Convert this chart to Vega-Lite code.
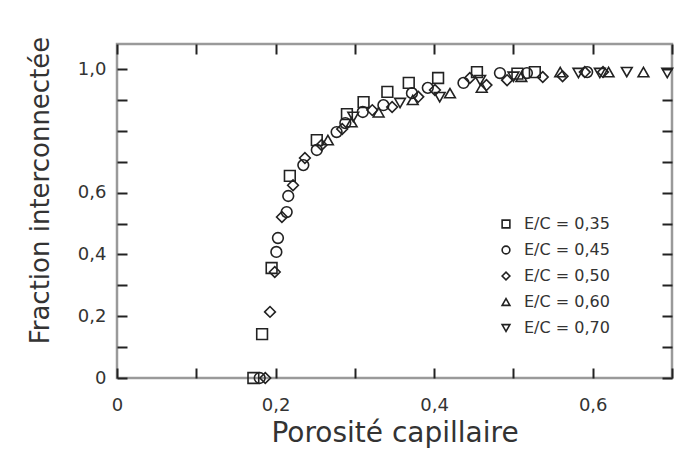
{
  "$schema": "https://vega.github.io/schema/vega-lite/v6.json",
  "width": 555,
  "height": 334,
  "autosize": "none",
  "padding": {"left": 117, "top": 44, "right": 28, "bottom": 86},
  "background": "white",
  "config": {
    "view": {"stroke": "#9a9a9a", "strokeWidth": 2.5},
    "font": "DejaVu Sans",
    "axis": {
      "grid": false,
      "domain": false,
      "tickColor": "#222",
      "tickWidth": 2,
      "tickSize": -10,
      "labelFont": "DejaVu Sans",
      "labelFontSize": 18,
      "labelColor": "#333",
      "titleFont": "DejaVu Sans",
      "titleFontWeight": "normal",
      "titleColor": "#333",
      "labelOverlap": false,
      "labelFlush": false
    }
  },
  "data": {
    "values": [
      {"s": "E/C = 0,35", "x": 0.172, "y": 0.0},
      {"s": "E/C = 0,35", "x": 0.183, "y": 0.142},
      {"s": "E/C = 0,35", "x": 0.195, "y": 0.356},
      {"s": "E/C = 0,35", "x": 0.218, "y": 0.654},
      {"s": "E/C = 0,35", "x": 0.252, "y": 0.770},
      {"s": "E/C = 0,35", "x": 0.290, "y": 0.854},
      {"s": "E/C = 0,35", "x": 0.311, "y": 0.893},
      {"s": "E/C = 0,35", "x": 0.341, "y": 0.926},
      {"s": "E/C = 0,35", "x": 0.368, "y": 0.955},
      {"s": "E/C = 0,35", "x": 0.405, "y": 0.971},
      {"s": "E/C = 0,35", "x": 0.454, "y": 0.990},
      {"s": "E/C = 0,35", "x": 0.505, "y": 0.985},
      {"s": "E/C = 0,35", "x": 0.527, "y": 0.990},
      {"s": "E/C = 0,45", "x": 0.180, "y": 0.0},
      {"s": "E/C = 0,45", "x": 0.201, "y": 0.408},
      {"s": "E/C = 0,45", "x": 0.203, "y": 0.453},
      {"s": "E/C = 0,45", "x": 0.214, "y": 0.537},
      {"s": "E/C = 0,45", "x": 0.216, "y": 0.589},
      {"s": "E/C = 0,45", "x": 0.235, "y": 0.689},
      {"s": "E/C = 0,45", "x": 0.252, "y": 0.738},
      {"s": "E/C = 0,45", "x": 0.277, "y": 0.796},
      {"s": "E/C = 0,45", "x": 0.288, "y": 0.825},
      {"s": "E/C = 0,45", "x": 0.310, "y": 0.861},
      {"s": "E/C = 0,45", "x": 0.336, "y": 0.883},
      {"s": "E/C = 0,45", "x": 0.372, "y": 0.922},
      {"s": "E/C = 0,45", "x": 0.392, "y": 0.939},
      {"s": "E/C = 0,45", "x": 0.437, "y": 0.955},
      {"s": "E/C = 0,45", "x": 0.483, "y": 0.987},
      {"s": "E/C = 0,45", "x": 0.517, "y": 0.987},
      {"s": "E/C = 0,45", "x": 0.593, "y": 0.990},
      {"s": "E/C = 0,50", "x": 0.187, "y": 0.0},
      {"s": "E/C = 0,50", "x": 0.193, "y": 0.214},
      {"s": "E/C = 0,50", "x": 0.199, "y": 0.343},
      {"s": "E/C = 0,50", "x": 0.208, "y": 0.521},
      {"s": "E/C = 0,50", "x": 0.222, "y": 0.624},
      {"s": "E/C = 0,50", "x": 0.237, "y": 0.712},
      {"s": "E/C = 0,50", "x": 0.258, "y": 0.754},
      {"s": "E/C = 0,50", "x": 0.284, "y": 0.806},
      {"s": "E/C = 0,50", "x": 0.322, "y": 0.867},
      {"s": "E/C = 0,50", "x": 0.347, "y": 0.877},
      {"s": "E/C = 0,50", "x": 0.380, "y": 0.910},
      {"s": "E/C = 0,50", "x": 0.401, "y": 0.932},
      {"s": "E/C = 0,50", "x": 0.445, "y": 0.971},
      {"s": "E/C = 0,50", "x": 0.466, "y": 0.948},
      {"s": "E/C = 0,50", "x": 0.492, "y": 0.964},
      {"s": "E/C = 0,50", "x": 0.537, "y": 0.974},
      {"s": "E/C = 0,50", "x": 0.562, "y": 0.977},
      {"s": "E/C = 0,50", "x": 0.590, "y": 0.990},
      {"s": "E/C = 0,50", "x": 0.613, "y": 0.990},
      {"s": "E/C = 0,60", "x": 0.266, "y": 0.770},
      {"s": "E/C = 0,60", "x": 0.296, "y": 0.828},
      {"s": "E/C = 0,60", "x": 0.330, "y": 0.860},
      {"s": "E/C = 0,60", "x": 0.373, "y": 0.900},
      {"s": "E/C = 0,60", "x": 0.420, "y": 0.922},
      {"s": "E/C = 0,60", "x": 0.460, "y": 0.940},
      {"s": "E/C = 0,60", "x": 0.510, "y": 0.975},
      {"s": "E/C = 0,60", "x": 0.559, "y": 0.990},
      {"s": "E/C = 0,60", "x": 0.620, "y": 0.990},
      {"s": "E/C = 0,60", "x": 0.664, "y": 0.990},
      {"s": "E/C = 0,70", "x": 0.298, "y": 0.845},
      {"s": "E/C = 0,70", "x": 0.357, "y": 0.890},
      {"s": "E/C = 0,70", "x": 0.407, "y": 0.909},
      {"s": "E/C = 0,70", "x": 0.458, "y": 0.964},
      {"s": "E/C = 0,70", "x": 0.500, "y": 0.975},
      {"s": "E/C = 0,70", "x": 0.582, "y": 0.987},
      {"s": "E/C = 0,70", "x": 0.609, "y": 0.987},
      {"s": "E/C = 0,70", "x": 0.643, "y": 0.990},
      {"s": "E/C = 0,70", "x": 0.694, "y": 0.987}
    ]
  },
  "layer": [
    {
      "mark": {"type": "point", "filled": false, "color": "#222", "strokeWidth": 1.6, "size": 115, "opacity": 1},
      "encoding": {
        "x": {
          "field": "x", "type": "quantitative",
          "scale": {"domain": [0, 0.7], "nice": false, "zero": false},
          "axis": {
            "orient": "bottom",
            "values": [0, 0.1, 0.2, 0.3, 0.4, 0.5, 0.6, 0.7],
            "labelExpr": "datum.value == 0 ? '0' : datum.value == 0.2 ? '0,2' : datum.value == 0.4 ? '0,4' : datum.value == 0.6 ? '0,6' : ''",
            "labelPadding": 28,
            "title": "Porosité capillaire",
            "titleFontSize": 28,
            "titleBaseline": "alphabetic",
            "titleY": 63
          }
        },
        "y": {
          "field": "y", "type": "quantitative",
          "scale": {"domain": [0, 1.081], "nice": false, "zero": false},
          "axis": {
            "orient": "left",
            "values": [0, 0.1, 0.2, 0.3, 0.4, 0.5, 0.6, 0.7, 0.8, 0.9, 1.0],
            "labelExpr": "datum.value == 0 ? '0' : datum.value == 0.2 ? '0,2' : datum.value == 0.4 ? '0,4' : datum.value == 0.6 ? '0,6' : datum.value == 1 ? '1,0' : ''",
            "labelPadding": 21,
            "title": "Fraction interconnectée",
            "titleFontSize": 26,
            "titleBaseline": "alphabetic",
            "titleX": -69,
            "titleY": 146
          }
        },
        "shape": {
          "field": "s", "type": "nominal",
          "scale": {
            "domain": ["E/C = 0,35", "E/C = 0,45", "E/C = 0,50", "E/C = 0,60", "E/C = 0,70"],
            "range": ["square", "circle", "diamond", "triangle-up", "triangle-down"]
          },
          "legend": {
            "title": null,
            "orient": "none",
            "legendX": 381,
            "legendY": 172,
            "padding": 0,
            "symbolSize": 60,
            "symbolStrokeColor": "#222",
            "symbolFillColor": "transparent",
            "symbolStrokeWidth": 1.6,
            "labelFont": "DejaVu Sans",
            "labelFontSize": 16,
            "labelColor": "#333",
            "labelOffset": 10,
            "rowPadding": 10
          }
        }
      }
    },
    {
      "mark": {"type": "point", "opacity": 0},
      "encoding": {
        "x": {
          "field": "x", "type": "quantitative",
          "axis": {"orient": "top", "values": [0, 0.1, 0.2, 0.3, 0.4, 0.5, 0.6, 0.7], "labels": false, "title": null}
        },
        "y": {
          "field": "y", "type": "quantitative",
          "axis": {"orient": "right", "values": [0, 0.1, 0.2, 0.3, 0.4, 0.5, 0.6, 0.7, 0.8, 0.9, 1.0], "labels": false, "title": null}
        }
      }
    }
  ],
  "resolve": {"axis": {"x": "independent", "y": "independent"}}
}
